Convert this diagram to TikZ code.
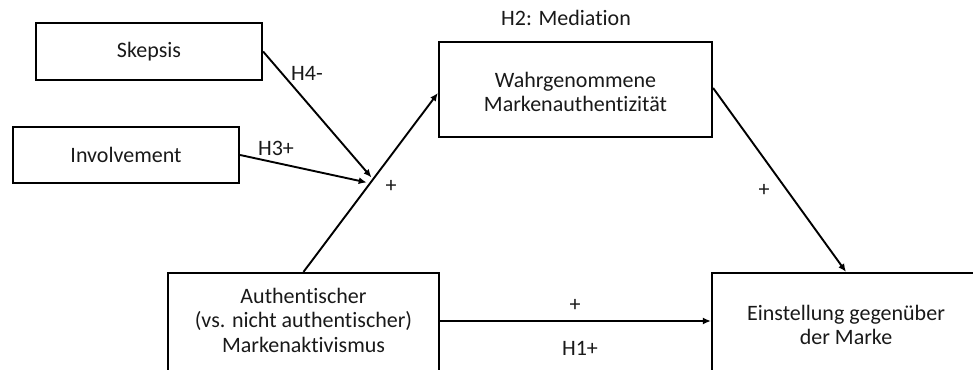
\documentclass[tikz,border=0pt]{standalone}
\usepackage{fontspec}
\setmainfont{Carlito}[Ligatures=NoCommon]
\usetikzlibrary{arrows.meta,calc}

\tikzset{
  box/.style={draw=black, line width=2.2pt, rectangle, inner sep=0pt},
  lbl/.style={font=\fontsize{22}{24.5}\selectfont, align=center, inner sep=0pt, text=black!90},
  arr/.style={line width=1.9pt, -{Latex[length=8pt,width=7pt]}}
}

\begin{document}
\begin{tikzpicture}[x=1pt,y=1pt]
  \useasboundingbox (0,0) rectangle (973,369);
  \clip (0,0) rectangle (973,369);

  % boxes
  \node[box, minimum width=226, minimum height=57] (skep) at (149,317.5) {};
  \node[lbl] (skeptext) at (skep.center) {Skepsis};

  \node[box, minimum width=226, minimum height=56] (inv) at (126,214) {};
  \node[lbl] (invtext) at (inv.center) {Involvement};

  \node[box, minimum width=273, minimum height=95] (wahr) at (575.5,279.5) {};
  \node[lbl] (wahrtext) at (575.5,277) {Wahrgenommene\\Markenauthentizität};

  \node[box, minimum width=271, minimum height=102] (auth) at (303.5,45) {};
  \node[lbl] (authtext) at (303.5,49) {Authentischer\\(vs. nicht authentischer)\\Markenaktivismus};

  \node[box, minimum width=268, minimum height=102] (eins) at (846,45) {};
  \node[lbl] (einstext) at (846,44) {Einstellung gegenüber\\der Marke};

  % moderated path and moderation points on it
  \coordinate (wahrin) at ([yshift=-3.5pt]wahr.west);
  \draw[arr] (auth.north) -- (wahrin);
  \coordinate (modS) at ($(auth.north)!0.528!(wahrin) + (-3,0)$);
  \coordinate (modI) at ($(auth.north)!0.5!(wahrin) + (-4,0)$);
  \draw[arr] (skep.east) -- (modS);
  \draw[arr] (inv.east) -- (modI);

  % mediation and direct effect
  \draw[arr] ([yshift=1.5pt]wahr.east) -- (eins.north);
  \draw[arr] ([yshift=3pt]auth.east) -- ([yshift=3pt]auth.east -| eins.west);

  % labels
  \node[lbl] (h4) at (307,296) {H4-};
  \node[lbl] (h3) at (276,221) {H3+};
  \node[lbl] (pmod) at (391,183) {+};
  \node[lbl] (h2) at (566,351) {H2: Mediation};
  \node[lbl] (pmed) at (764,179) {+};
  \node[lbl] (pdir) at (575,64) {+};
  \node[lbl] (h1) at (580,21) {H1+};
\end{tikzpicture}
\end{document}
